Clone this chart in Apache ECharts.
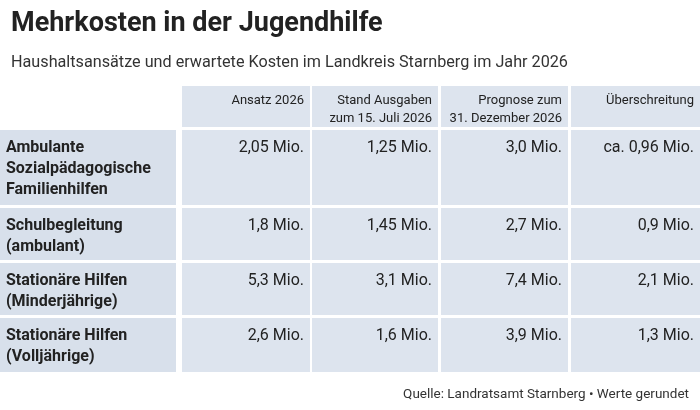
<!DOCTYPE html><html><head><meta charset="utf-8"><script src="https://cdn.jsdelivr.net/npm/echarts@6/dist/echarts.min.js"></script>
<style>html,body{margin:0;padding:0;background:#fff}#c{width:700px;height:410px}</style></head><body><div id="c"></div><script>
const headers = ["Ansatz 2026","Stand Ausgaben\nzum 15. Juli 2026","Prognose zum\n31. Dezember 2026","Überschreitung"];
const categories = ["Ambulante\nSozialpädagogische\nFamilienhilfen","Schulbegleitung\n(ambulant)","Stationäre Hilfen\n(Minderjährige)","Stationäre Hilfen\n(Volljährige)"];
const ansatz = ["2,05 Mio.","1,8 Mio.","5,3 Mio.","2,6 Mio."];
const stand = ["1,25 Mio.","1,45 Mio.","3,1 Mio.","1,6 Mio."];
const prognose = ["3,0 Mio.","2,7 Mio.","7,4 Mio.","3,9 Mio."];
const ueber = ["ca. 0,96 Mio.","0,9 Mio.","2,1 Mio.","1,3 Mio."];
const colEdges=[[0,176],[182,310],[312,438],[441,568],[571,700]];
const rowEdges=[[86,127],[130,205],[208,260],[263,315],[318,372]];
const cells=[];
headers.forEach((h,i)=>cells.push([0,i+1,h]));
categories.forEach((c,r)=>{[c,ansatz[r],stand[r],prognose[r],ueber[r]].forEach((v,i)=>cells.push([r+1,i,v]));});
const F='Roboto';
const chart=echarts.init(document.getElementById('c'));
chart.setOption({
 animation:false,
 title:[{text:'Mehrkosten in der Jugendhilfe',left:6,top:6,textStyle:{fontFamily:F,fontWeight:'bold',fontSize:27,color:'#222'}},
  {text:'Haushaltsansätze und erwartete Kosten im Landkreis Starnberg im Jahr 2026',left:6,top:50,textStyle:{fontFamily:F,fontWeight:'normal',fontSize:16.2,color:'#333'}},
  {text:'Quelle: Landratsamt Starnberg • Werte gerundet',right:6,top:383,textStyle:{fontFamily:F,fontWeight:'normal',fontSize:13.5,color:'#333'}}],
 grid:{left:0,right:0,top:0,bottom:0},
 xAxis:{type:'value',min:0,max:700,show:false},
 yAxis:{type:'value',min:0,max:410,inverse:true,show:false},
 series:[{type:'custom',data:cells,renderItem:(p,api)=>{
   const r=api.value(0),c=api.value(1),t=cells[p.dataIndex][2];
   const [x0,x1]=colEdges[c],[y0,y1]=rowEdges[r];
   const a=api.coord([x0,y0]),b=api.coord([x1,y1]);
   const head=r===0, first=c===0;
   return {type:'group',children:[
    {type:'rect',shape:{x:a[0],y:a[1],width:b[0]-a[0],height:b[1]-a[1]},style:{fill:first?'#d8e0eb':'#dde4ee'}},
    {type:'text',style:{text:t,x:first?a[0]+6:b[0]-6,y:a[1]+(head?6:7),align:first?'left':'right',verticalAlign:'top',
      font:(first?'bold ':'')+(head?'13px ':'16px ')+F,fill:'#222',lineHeight:head?18:21}}
   ]};
 }}]
});
</script></body></html>
